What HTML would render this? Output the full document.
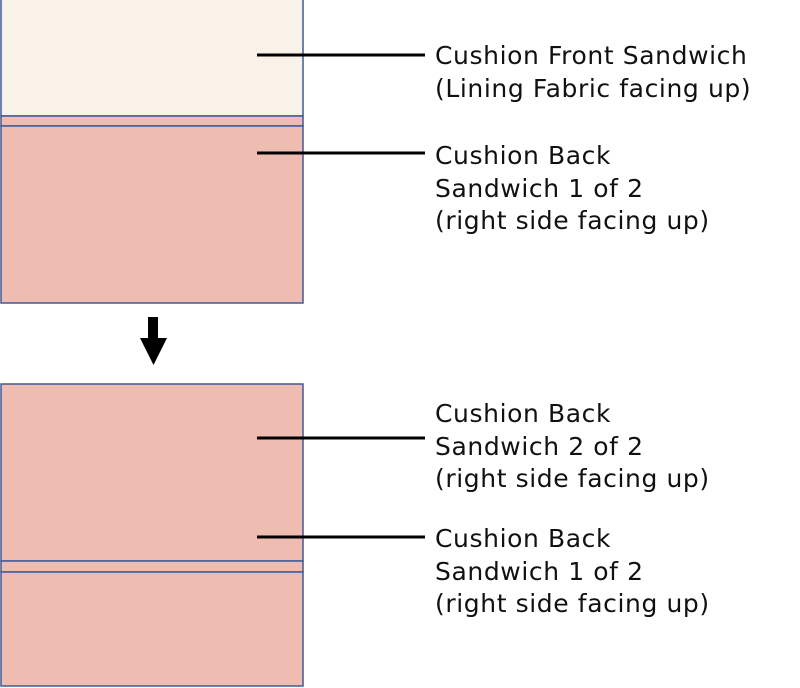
<!DOCTYPE html>
<html><head><style>
body{margin:0;width:800px;height:688px;background:#fff;position:relative;overflow:hidden;font-family:"DejaVu Sans","Liberation Sans",sans-serif;}
.t{position:absolute;left:435px;font-size:25px;letter-spacing:0.6px;line-height:32.5px;color:#111;white-space:nowrap;}
</style></head><body>
<svg width="800" height="688" style="position:absolute;left:0;top:0">
<rect x="1" y="-2" width="302" height="118" fill="#f8f2e8" stroke="#3f5a97" stroke-width="1.5"/>
<rect x="1" y="116" width="302" height="10" fill="#efbcb2" stroke="#3f5a97" stroke-width="1.5"/>
<rect x="1" y="126" width="302" height="177" fill="#efbcb2" stroke="#3f5a97" stroke-width="1.5"/>
<rect x="1" y="384" width="302" height="177" fill="#efbcb2" stroke="#3f5a97" stroke-width="1.5"/>
<rect x="1" y="561" width="302" height="11" fill="#efbcb2" stroke="#3f5a97" stroke-width="1.5"/>
<rect x="1" y="572" width="302" height="114" fill="#efbcb2" stroke="#3f5a97" stroke-width="1.5"/>
<rect x="148" y="317" width="10" height="23" fill="#000"/>
<polygon points="140,338 167,338 153.5,365" fill="#000"/>
<g stroke="#000" stroke-width="3">
<line x1="257" y1="55" x2="425" y2="55"/>
<line x1="257" y1="153" x2="425" y2="153"/>
<line x1="257" y1="438" x2="425" y2="438"/>
<line x1="257" y1="537" x2="425" y2="537"/>
</g>
</svg>
<div class="t" style="top:40px">Cushion Front Sandwich<br>(Lining Fabric facing up)</div>
<div class="t" style="top:140px">Cushion Back<br>Sandwich 1 of 2<br>(right side facing up)</div>
<div class="t" style="top:398px">Cushion Back<br>Sandwich 2 of 2<br>(right side facing up)</div>
<div class="t" style="top:523px">Cushion Back<br>Sandwich 1 of 2<br>(right side facing up)</div>
</body></html>
